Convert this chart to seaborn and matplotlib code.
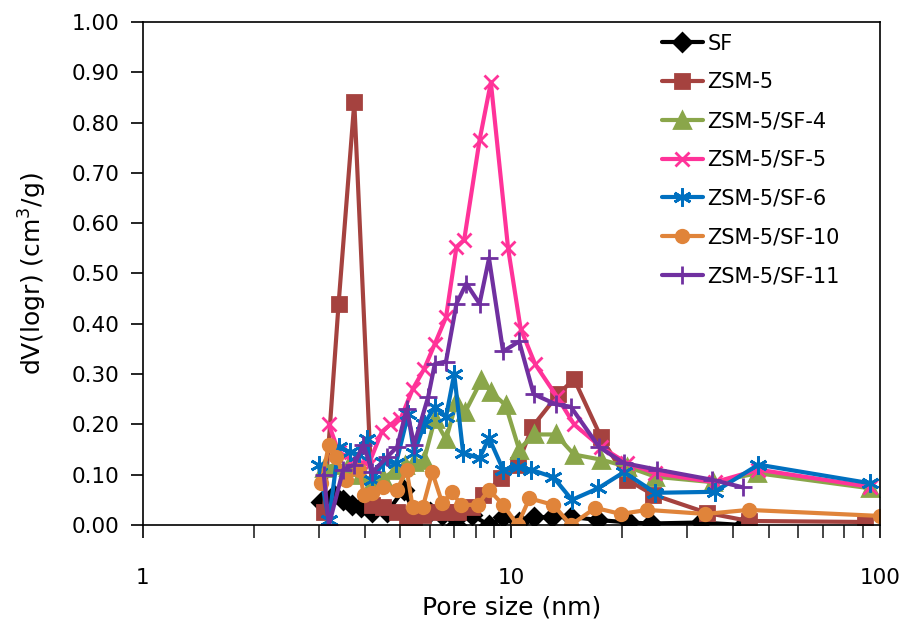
import seaborn as sns
import pandas as pd
import matplotlib.pyplot as plt
from matplotlib.ticker import FormatStrFormatter, FixedLocator, FixedFormatter, NullFormatter

# pore size (nm) and dV(logr) values
sf_x = [3.05, 3.3, 3.5, 3.7, 3.9, 4.2, 4.6, 5.1, 5.5, 6.0, 6.5, 7.1, 7.8, 8.7, 9.5, 10.5, 11.5,
        12.9, 14.5, 17.2, 20.8, 23.9, 32.6, 42.4]
sf_y = [0.045, 0.06, 0.05, 0.04, 0.035, 0.025, 0.025, 0.07, 0.02, 0.025, 0.02, 0.0, 0.02, 0.0,
        0.015, 0.005, 0.015, 0.016, 0.016, 0.01, 0.005, 0.003, 0.005, 0.0]

zsm_x = [3.1, 3.4, 3.75, 4.2, 4.5, 4.9, 5.2, 5.45, 5.75, 6.05, 6.6, 7.15, 7.8, 8.4, 9.4, 10.4,
         11.4, 13.4, 14.8, 17.5, 20.6, 24.3, 34, 44, 91]
zsm_y = [0.025, 0.44, 0.84, 0.04, 0.035, 0.025, 0.015, 0.013, 0.02, 0.025, 0.025, 0.025, 0.035,
         0.06, 0.093, 0.12, 0.195, 0.26, 0.29, 0.175, 0.09, 0.06, 0.024, 0.008, 0.006]

sf4_x = [3.1, 3.35, 3.6, 3.9, 4.2, 4.5, 4.85, 5.15, 5.45, 5.8, 6.2, 6.65, 7.1, 7.5, 8.3, 8.8,
         9.65, 10.5, 11.5, 13.2, 14.8, 17.5, 20.6, 24.6, 35.3, 46.5, 94]
sf4_y = [0.113, 0.12, 0.115, 0.1, 0.083, 0.093, 0.11, 0.12, 0.125, 0.13, 0.21, 0.17, 0.245, 0.225,
         0.288, 0.265, 0.238, 0.15, 0.18, 0.18, 0.14, 0.13, 0.116, 0.096, 0.085, 0.103, 0.073]

sf5_x = [3.2, 3.4, 3.7, 4.1, 4.45, 4.7, 5.0, 5.4, 5.8, 6.2, 6.65, 7.1, 7.45, 8.2, 8.8, 9.8,
         10.6, 11.6, 13.3, 14.8, 17.5, 20.6, 24.6, 35.6, 46.8, 94]
sf5_y = [0.2, 0.145, 0.13, 0.12, 0.185, 0.2, 0.21, 0.27, 0.31, 0.36, 0.413, 0.553, 0.567, 0.765,
         0.88, 0.55, 0.39, 0.32, 0.255, 0.2, 0.155, 0.123, 0.103, 0.085, 0.11, 0.076]

sf6_x = [3.0, 3.2, 3.4, 3.65, 3.85, 4.05, 4.2, 4.5, 4.87, 5.25, 5.45, 5.8, 6.2, 6.65, 7.0, 7.4,
         8.2, 8.7, 9.5, 10.4, 11.3, 13.0, 14.6, 17.2, 20.2, 24.6, 35.6, 46.8, 94]
sf6_y = [0.12, 0.01, 0.155, 0.145, 0.14, 0.17, 0.09, 0.125, 0.123, 0.22, 0.143, 0.2, 0.235, 0.215,
         0.3, 0.143, 0.133, 0.173, 0.11, 0.115, 0.11, 0.095, 0.05, 0.073, 0.105, 0.064, 0.066,
         0.12, 0.083]

sf10_x = [3.05, 3.2, 3.35, 3.55, 3.87, 3.98, 4.2, 4.5, 4.9, 5.2, 5.4, 5.75, 6.1, 6.5, 6.9, 7.3,
          8.1, 8.7, 9.5, 10.4, 11.2, 13.0, 14.5, 16.9, 19.8, 23.4, 33.6, 44, 100]
sf10_y = [0.083, 0.16, 0.135, 0.09, 0.11, 0.06, 0.063, 0.075, 0.07, 0.11, 0.035, 0.035, 0.105,
          0.043, 0.066, 0.04, 0.04, 0.07, 0.04, 0.0, 0.053, 0.04, 0.0, 0.034, 0.022, 0.03, 0.022,
          0.03, 0.018]

sf11_x = [3.1, 3.2, 3.5, 3.75, 3.97, 4.2, 4.6, 4.9, 5.2, 5.45, 5.95, 6.2, 6.65, 7.1, 7.55, 8.2,
          8.7, 9.5, 10.5, 11.5, 13.2, 14.5, 17.3, 20.2, 24.9, 35, 42.4]
sf11_y = [0.1, 0.0, 0.11, 0.12, 0.16, 0.105, 0.135, 0.155, 0.23, 0.16, 0.255, 0.32, 0.325, 0.44,
          0.48, 0.44, 0.53, 0.345, 0.365, 0.26, 0.24, 0.235, 0.155, 0.123, 0.11, 0.09, 0.075]

series = [
    ("SF", sf_x, sf_y, "black", "D", 9),
    ("ZSM-5", zsm_x, zsm_y, "#A5423F", "s", 10),
    ("ZSM-5/SF-4", sf4_x, sf4_y, "#8AA64A", "^", 11),
    ("ZSM-5/SF-5", sf5_x, sf5_y, "#FF3399", "x", 10),
    ("ZSM-5/SF-6", sf6_x, sf6_y, "#0070C0", (6, 2, 0), 13),
    ("ZSM-5/SF-10", sf10_x, sf10_y, "#E0843A", "o", 9),
    ("ZSM-5/SF-11", sf11_x, sf11_y, "#7030A0", "+", 13),
]

sns.set_style("ticks")
plt.rcParams['font.family'] = ['DejaVu Sans']
plt.rcParams['text.color'] = 'black'
plt.rcParams['axes.labelcolor'] = 'black'

fig, ax = plt.subplots(figsize=(9.03, 6.23), dpi=100)
fig.subplots_adjust(left=0.158, right=0.9745, top=0.9647, bottom=0.1573)

for name, xs, ys, color, marker, ms in series:
    df = pd.DataFrame({"x": xs, "y": ys})
    sns.lineplot(data=df, x="x", y="y", ax=ax, color=color, marker=marker, markersize=ms,
                 markeredgecolor=color, markeredgewidth=2, linewidth=3,
                 sort=False, estimator=None, label=name)

ax.set_xscale("log")
ax.set_xlim(1, 100)
ax.set_ylim(0, 1.0)
ax.xaxis.set_major_locator(FixedLocator([1, 10, 100]))
ax.xaxis.set_major_formatter(FixedFormatter(["1", "10", "100"]))
ax.xaxis.set_minor_formatter(NullFormatter())
ax.set_yticks([i / 10 for i in range(11)])
ax.yaxis.set_major_formatter(FormatStrFormatter('%.2f'))
ax.tick_params(axis='both', which='major', direction='out', length=9, width=1.2,
               labelsize=15.5, colors='black', pad=8)
ax.tick_params(axis='x', which='minor', direction='out', length=9, width=1.2)
ax.tick_params(axis='x', which='major', pad=22)
for sp in ax.spines.values():
    sp.set_linewidth(1.2)
    sp.set_color('black')

ax.set_xlabel("Pore size (nm)", fontsize=18, labelpad=5)
ax.set_ylabel("dV(logr) (cm$^3$/g)", fontsize=18, labelpad=16)

ax.legend(loc='upper left', bbox_to_anchor=(0.684, 1.006), frameon=False, fontsize=15,
          handlelength=2.0, labelspacing=0.9, handletextpad=0.2, borderpad=0.2)

plt.savefig("out.png", dpi=100)
